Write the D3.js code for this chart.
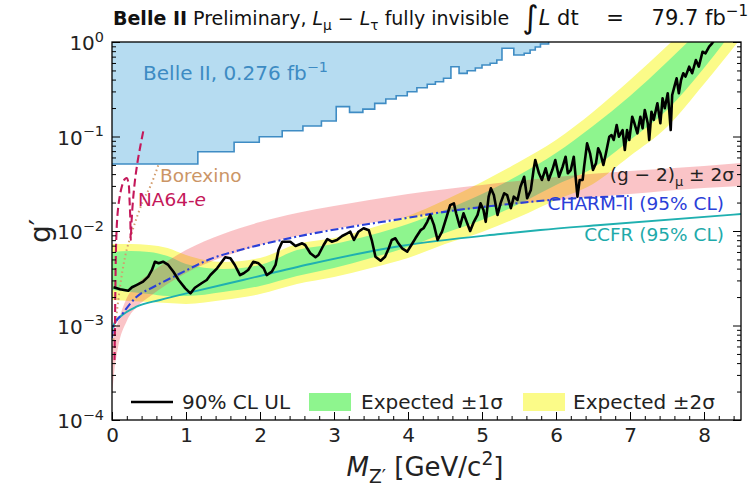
<!DOCTYPE html>
<html>
<head>
<meta charset="utf-8">
<script src="https://cdn.jsdelivr.net/npm/d3@7"></script>
<style>
  body { margin: 0; background: #fff; }
  svg { font-family: "DejaVu Sans", sans-serif; }
</style>
</head>
<body>
<div id="chart-holder"></div>
<script>
// axis ticks
var xTicks = [0, 1, 2, 3, 4, 5, 6, 7, 8];
var yTickExp = [0, -1, -2, -3, -4];

// Belle II 0.276 fb-1 exclusion (step edges)
var belleMass = [0, 1.16, 1.65, 1.99, 2.30, 2.58, 2.83, 3.03, 3.21, 3.39, 3.55, 3.70, 3.84, 3.99, 4.12, 4.26,
  4.37, 4.48, 4.58, 4.69, 4.80, 4.91, 5.00, 5.11, 5.20, 5.27, 5.43, 5.57, 5.65, 5.72, 5.79, 5.90];
var belleG = [0.0512, 0.069, 0.0868, 0.0995, 0.115, 0.129, 0.146, 0.207, 0.180, 0.195, 0.224, 0.249, 0.270, 0.298, 0.328, 0.357,
  0.380, 0.413, 0.548, 0.466, 0.497, 0.531, 0.571, 0.595, 0.645, 0.858, 0.728, 0.759, 0.823, 0.885, 0.952, 1.0];

// observed 90% CL upper limit
var obsMass = [0.02, 0.11, 0.22, 0.27, 0.33, 0.42, 0.49, 0.54, 0.58, 0.63, 0.69, 0.76, 0.83, 0.90, 0.99, 1.06, 1.12, 1.21,
  1.28, 1.33, 1.42, 1.53, 1.60, 1.66, 1.73, 1.78, 1.84, 1.91, 1.98, 2.05, 2.09, 2.16, 2.21, 2.25, 2.30, 2.41, 2.48, 2.57,
  2.61, 2.68, 2.75, 2.79, 2.86, 2.91, 2.97, 3.04, 3.11, 3.18, 3.22, 3.27, 3.33, 3.40, 3.47, 3.51, 3.56, 3.63, 3.69, 3.74,
  3.78, 3.83, 3.87, 3.92, 3.99, 4.06, 4.10, 4.17, 4.21, 4.26, 4.30, 4.35, 4.40, 4.46, 4.53, 4.57, 4.62, 4.65, 4.70, 4.75,
  4.80, 4.84, 4.89, 4.94, 4.98, 5.02, 5.05, 5.09, 5.12, 5.16, 5.21, 5.25, 5.30, 5.34, 5.39, 5.43, 5.48, 5.52, 5.57, 5.61,
  5.66, 5.70, 5.72, 5.77, 5.81, 5.86, 5.90, 5.95, 5.99, 6.04, 6.09, 6.13, 6.16, 6.20, 6.24, 6.29, 6.32, 6.36, 6.38, 6.42,
  6.46, 6.50, 6.54, 6.57, 6.60, 6.64, 6.67, 6.72, 6.75, 6.78, 6.82, 6.85, 6.90, 6.93, 6.96, 6.99, 7.03, 7.06, 7.10, 7.14,
  7.17, 7.20, 7.24, 7.26, 7.29, 7.32, 7.37, 7.41, 7.44, 7.47, 7.51, 7.53, 7.55, 7.57, 7.60, 7.63, 7.66, 7.69, 7.72, 7.75,
  7.80, 7.84, 7.89, 7.93, 7.98, 8.02, 8.07, 8.11, 8.14];
var obsG = [0.00254, 0.00242, 0.00233, 0.00254, 0.00268, 0.00291, 0.00329, 0.00387, 0.00473, 0.00455, 0.00473, 0.00437,
  0.00371, 0.00303, 0.00247, 0.00219, 0.00251, 0.0028, 0.00303, 0.00342, 0.00403, 0.00527, 0.00514, 0.00437, 0.00342,
  0.00357, 0.00387, 0.00473, 0.00455, 0.00403, 0.00342, 0.00371, 0.00437, 0.0063, 0.0077, 0.0077, 0.00694, 0.00741,
  0.00711, 0.00581, 0.00527, 0.00557, 0.00711, 0.00823, 0.0077, 0.00803, 0.00885, 0.00945, 0.00983, 0.00803, 0.00983,
  0.0107, 0.0102, 0.00803, 0.00535, 0.00485, 0.00535, 0.00656, 0.00803, 0.00837, 0.00741, 0.00656, 0.00604, 0.00741,
  0.00837, 0.0102, 0.0107, 0.0125, 0.0148, 0.0116, 0.00803, 0.00983, 0.0148, 0.0188, 0.0196, 0.0154, 0.0111, 0.0154,
  0.0121, 0.0100, 0.0125, 0.0148, 0.0196, 0.0167, 0.0125, 0.0231, 0.0283, 0.0240, 0.0148, 0.0196, 0.0251, 0.0240,
  0.0174, 0.0231, 0.0213, 0.0294, 0.0375, 0.0222, 0.0272, 0.0461, 0.0564, 0.0408, 0.0347, 0.0461, 0.0347, 0.0442,
  0.0564, 0.0375, 0.0479, 0.0611, 0.0408, 0.0442, 0.0611, 0.0231, 0.0347, 0.0347, 0.0479, 0.0847, 0.0664, 0.0442,
  0.052, 0.075, 0.0664, 0.0499, 0.0637, 0.0995, 0.1037, 0.0918, 0.132, 0.0995, 0.117, 0.072, 0.117, 0.0918, 0.162,
  0.138, 0.108, 0.162, 0.122, 0.191, 0.138, 0.0918, 0.183, 0.150, 0.225, 0.138, 0.254, 0.199, 0.287, 0.191, 0.117,
  0.275, 0.337, 0.413, 0.287, 0.396, 0.467, 0.430, 0.548, 0.467, 0.645, 0.548, 0.789, 0.759, 0.892, 0.969, 1.05];

// expected limit bands
var expMass = [0, 0.25, 0.5, 0.75, 1, 1.5, 2, 2.5, 3, 3.5, 4, 4.5, 5, 5.5, 6, 6.5, 7, 7.5, 8, 8.5];
var exp2Hi = [0.00729, 0.00729, 0.00711, 0.00661, 0.00557, 0.0047, 0.00518, 0.00729, 0.00843, 0.01076, 0.01441,
  0.02128, 0.033, 0.0537, 0.0918, 0.1816, 0.396, 0.907, 2.18, 5.5];
var exp1Hi = [0.006, 0.00614, 0.006, 0.00544, 0.00448, 0.00396, 0.00437, 0.00629, 0.00729, 0.00907, 0.01186,
  0.01668, 0.02463, 0.0391, 0.0669, 0.1291, 0.268, 0.614, 1.477, 3.73];
var exp1Lo = [0.00238, 0.00226, 0.00215, 0.00205, 0.00205, 0.00226, 0.00262, 0.00334, 0.00406, 0.00518, 0.00677,
  0.00952, 0.01307, 0.01931, 0.0307, 0.0464, 0.0918, 0.1907, 0.531, 1.71];
var exp2Lo = [0.00186, 0.00182, 0.00177, 0.00173, 0.00169, 0.00186, 0.00215, 0.00275, 0.00326, 0.00406, 0.00518,
  0.00729, 0.00976, 0.01406, 0.02128, 0.03144, 0.0622, 0.126, 0.359, 1.10];

// (g-2)mu +- 2 sigma band
var pinkMass = [0, 0.03, 0.08, 0.2, 0.35, 0.5, 0.75, 1, 1.5, 2, 2.5, 3, 4, 5, 6, 7, 8, 8.5];
var pinkHi = [6.22e-4, 7.93e-4, 1.089e-3, 1.954e-3, 2.817e-3, 3.508e-3, 4.813e-3, 6.29e-3, 9.30e-3, 1.245e-2,
  1.551e-2, 1.839e-2, 2.463e-2, 3.07e-2, 3.727e-2, 4.315e-2, 4.874e-2, 5.243e-2];
var pinkLo = [1.839e-4, 3.22e-4, 5.78e-4, 1.116e-3, 1.608e-3, 2.002e-3, 2.749e-3, 3.594e-3, 5.31e-3, 7.11e-3,
  8.85e-3, 1.050e-2, 1.406e-2, 1.751e-2, 2.128e-2, 2.463e-2, 2.851e-2, 2.994e-2];

// other experiments
var charmMass = [0, 0.02, 0.15, 0.33, 0.56, 0.88, 1.33, 1.78, 2.23, 2.68, 3.22, 3.90, 4.57, 5.25, 5.93, 6.60, 6.98];
var charmG = [7.37e-4, 9.64e-4, 1.356e-3, 2.002e-3, 2.555e-3, 3.422e-3, 5.054e-3, 6.449e-3, 7.84e-3, 9.30e-3,
  1.102e-2, 1.340e-2, 1.628e-2, 1.884e-2, 2.128e-2, 2.290e-2, 2.346e-2];
var ccfrMass = [0, 0.04, 0.11, 0.33, 0.65, 1.10, 1.77, 2.68, 3.90, 5.25, 5.79, 6.60, 8.5];
var ccfrG = [8.96e-4, 1.089e-3, 1.239e-3, 1.581e-3, 1.862e-3, 2.279e-3, 3.03e-3, 4.476e-3, 6.94e-3, 9.30e-3,
  1.025e-2, 1.157e-2, 1.513e-2];
var na64Mass = [0.034, 0.041, 0.047, 0.057, 0.074, 0.101, 0.135, 0.169, 0.199, 0.223, 0.237, 0.248, 0.253, 0.264,
  0.284, 0.311, 0.345, 0.386, 0.426];
var na64G = [4.32e-4, 1.143e-3, 3.03e-3, 8.03e-3, 1.477e-2, 2.234e-2, 2.994e-2, 3.508e-2, 3.638e-2, 3.221e-2,
  2.128e-2, 1.307e-2, 8.03e-3, 1.245e-2, 2.128e-2, 3.465e-2, 5.37e-2, 8.13e-2, 0.1172];
var borMass = [0.02, 0.064, 0.108, 0.176, 0.267, 0.356, 0.424, 0.514, 0.627];
var borG = [7.03e-4, 1.356e-3, 2.555e-3, 5.31e-3, 9.52e-3, 1.551e-2, 2.128e-2, 2.922e-2, 4.994e-2];

// chart area (plotTop: "top" is taken by window.top)
var width = 751, height = 488;
var plotLeft = 112, plotRight = 741, plotTop = 42, plotBottom = 420;

var svg = d3.select("#chart-holder")
  .append("svg")
  .attr("width", width)
  .attr("height", height);

var x = d3.scaleLinear().domain([0, 8.5]).range([plotLeft, plotRight]);
var y = d3.scaleLog().domain([1e-4, 1]).range([plotBottom, plotTop]);

svg.append("clipPath")
  .attr("id", "plot-clip")
  .append("rect")
  .attr("x", plotLeft)
  .attr("y", plotTop)
  .attr("width", plotRight - plotLeft)
  .attr("height", plotBottom - plotTop);

var plot = svg.append("g").attr("clip-path", "url(#plot-clip)");

// zip two arrays into points
function pts(ms, gs) {
  return ms.map(function(m, i) { return {m: m, g: gs[i]}; });
}

function band(ms, lo, hi) {
  return ms.map(function(m, i) { return {m: m, lo: lo[i], hi: hi[i]}; });
}

var bandArea = d3.area()
  .curve(d3.curveMonotoneX)
  .x(function(d) { return x(d.m); })
  .y0(function(d) { return y(d.lo); })
  .y1(function(d) { return y(d.hi); });

// belle II old result
var belle = pts(belleMass, belleG);
plot.append("path")
  .datum(belle)
  .attr("d", d3.area().curve(d3.curveStepAfter)
    .x(function(d) { return x(d.m); })
    .y0(y(1))
    .y1(function(d) { return y(d.g); }))
  .attr("fill", "#b6dcf1");
plot.append("path")
  .datum(belle)
  .attr("d", d3.line().curve(d3.curveStepAfter)
    .x(function(d) { return x(d.m); })
    .y(function(d) { return y(d.g); }))
  .attr("fill", "none")
  .attr("stroke", "#3f8cc4")
  .attr("stroke-width", 1.6);

// expected bands
var yellow = "#fbfb88", green = "#8ef58e";
plot.append("path")
  .datum(band(expMass, exp2Lo, exp2Hi))
  .attr("d", bandArea)
  .attr("fill", yellow);
plot.append("path")
  .datum(band(expMass, exp1Lo, exp1Hi))
  .attr("d", bandArea)
  .attr("fill", green);

// (g-2) band on top, translucent
plot.append("path")
  .datum(band(pinkMass, pinkLo, pinkHi))
  .attr("d", bandArea)
  .attr("fill", "#f03c46")
  .attr("fill-opacity", 0.3);

var line = d3.line()
  .x(function(d) { return x(d.m); })
  .y(function(d) { return y(d.g); });

plot.append("path")
  .datum(pts(ccfrMass, ccfrG))
  .attr("d", line.curve(d3.curveMonotoneX))
  .attr("fill", "none")
  .attr("stroke", "#1fb0b0")
  .attr("stroke-width", 1.9);

plot.append("path")
  .datum(pts(charmMass, charmG))
  .attr("d", line.curve(d3.curveMonotoneX))
  .attr("fill", "none")
  .attr("stroke", "#2a40d8")
  .attr("stroke-width", 2.1)
  .attr("stroke-dasharray", "8,3,2,3");

plot.append("path")
  .datum(pts(borMass, borG))
  .attr("d", line.curve(d3.curveMonotoneX))
  .attr("fill", "none")
  .attr("stroke", "#d29c6c")
  .attr("stroke-width", 2)
  .attr("stroke-dasharray", "1.5,3");

plot.append("path")
  .datum(pts(na64Mass, na64G))
  .attr("d", line.curve(d3.curveCatmullRom))
  .attr("fill", "none")
  .attr("stroke", "#c4185a")
  .attr("stroke-width", 2.1)
  .attr("stroke-dasharray", "8,4");

// observed limit
plot.append("path")
  .datum(pts(obsMass, obsG))
  .attr("d", line.curve(d3.curveLinear))
  .attr("fill", "none")
  .attr("stroke", "#000")
  .attr("stroke-width", 2.6)
  .attr("stroke-linejoin", "round");

// write text made of pieces: [text, kind] with kind b / i / sub / sup / big
function rich(sel, parts, fs) {
  var shift = 0;
  parts.forEach(function(p) {
    var t = sel.append("tspan").text(p[0]);
    var target = 0;
    if (p[1] === "sub") {
      target = 0.28 * fs;
      t.attr("font-size", 0.72 * fs);
    } else if (p[1] === "sup") {
      target = -0.42 * fs;
      t.attr("font-size", 0.72 * fs);
    } else if (p[1] === "big") {
      target = 0.12 * fs;
      t.attr("font-size", 1.5 * fs);
    }
    if (p[1] === "b") t.attr("font-weight", "bold");
    if (p[1] === "i") t.attr("font-style", "italic");
    if (target !== shift) t.attr("dy", target - shift);
    shift = target;
  });
}

// annotations
var ann = svg.append("g").attr("font-size", 18.5);
rich(ann.append("text").attr("x", x(0.42)).attr("y", 80).attr("fill", "#3d8bc3").attr("font-size", 20),
  [["Belle II, 0.276 fb", ""], ["\u22121", "sup"]], 20);
ann.append("text").attr("x", x(0.65)).attr("y", y(0.033)).attr("fill", "#cb9566").text("Borexino");
rich(ann.append("text").attr("x", x(0.35)).attr("y", y(0.0185)).attr("fill", "#c4185a"),
  [["NA64-", ""], ["e", "i"]], 18.5);
rich(ann.append("text").attr("x", 734).attr("y", y(0.034)).attr("fill", "#222").attr("text-anchor", "end"),
  [["(g \u2212 2)", ""], ["\u03bc", "sub"], [" \u00b1 2\u03c3", ""]], 18);
ann.append("text").attr("x", 724).attr("y", y(0.0165)).attr("fill", "#2a40d8").attr("text-anchor", "end")
  .text("CHARM-II (95% CL)");
ann.append("text").attr("x", 724).attr("y", y(0.0079)).attr("fill", "#1eaaaa").attr("text-anchor", "end")
  .text("CCFR (95% CL)");

// frame and ticks
var yMinor = [];
yTickExp.slice(0, 4).forEach(function(e) {
  for (var j = 2; j <= 9; j++) yMinor.push(j * Math.pow(10, e - 1));
});
var yMajor = yTickExp.map(function(e) { return Math.pow(10, e); });
var xMinor = d3.range(0, 8.5, 0.2);

function ticks(axis, tx, values, size) {
  var g = svg.append("g")
    .attr("transform", tx)
    .call(axis.tickValues(values).tickSize(size).tickFormat(""));
  g.select(".domain").remove();
  g.selectAll("line").attr("stroke", "#000").attr("stroke-width", 1);
  return g;
}
ticks(d3.axisLeft(y), "translate(" + plotLeft + ",0)", yMajor, -8);
ticks(d3.axisLeft(y), "translate(" + plotLeft + ",0)", yMinor, -4);
ticks(d3.axisRight(y), "translate(" + plotRight + ",0)", yMajor, -8);
ticks(d3.axisRight(y), "translate(" + plotRight + ",0)", yMinor, -4);
ticks(d3.axisBottom(x), "translate(0," + plotBottom + ")", xMinor, -4);

var xAxis = svg.append("g")
  .attr("transform", "translate(0," + plotBottom + ")")
  .call(d3.axisBottom(x).tickValues(xTicks).tickSize(-8).tickPadding(8));
xAxis.select(".domain").remove();
xAxis.selectAll("line").attr("stroke", "#000");
xAxis.selectAll("text").attr("font-size", 20).attr("font-family", "DejaVu Sans").attr("fill", "#222");

svg.selectAll("text.ylab")
  .data(yTickExp)
  .enter()
  .append("text")
  .attr("class", "ylab")
  .attr("x", plotLeft - 8)
  .attr("y", function(d) { return y(Math.pow(10, d)) + 8; })
  .attr("text-anchor", "end")
  .attr("font-size", 20)
  .attr("fill", "#222")
  .each(function(d) {
    rich(d3.select(this), [["10", ""], [d === 0 ? "0" : "\u2212" + (-d), "sup"]], 20);
  });

svg.append("rect")
  .attr("x", plotLeft)
  .attr("y", plotTop)
  .attr("width", plotRight - plotLeft)
  .attr("height", plotBottom - plotTop)
  .attr("fill", "none")
  .attr("stroke", "#000")
  .attr("stroke-width", 1.3);

// axis titles
rich(svg.append("text").attr("x", 425).attr("y", 476).attr("text-anchor", "middle").attr("font-size", 26).attr("fill", "#222"),
  [["M", "i"], ["Z\u2032", "sub"], [" [GeV/c", ""], ["2", "sup"], ["]", ""]], 26);
svg.append("text")
  .attr("transform", "translate(50,231) rotate(-90)")
  .attr("text-anchor", "middle")
  .attr("font-size", 28)
  .attr("fill", "#222")
  .text("g\u2032");

// title
rich(svg.append("text").attr("x", 113).attr("y", 25).attr("font-size", 19).attr("fill", "#111"),
  [["Belle II", "b"], [" Preliminary, ", ""], ["L", "i"], ["\u03bc", "sub"], [" \u2212 ", ""], ["L", "i"],
   ["\u03c4", "sub"], [" fully invisible", ""]], 19);
rich(svg.append("text").attr("x", 748).attr("y", 25).attr("font-size", 21).attr("fill", "#111").attr("text-anchor", "end")
  .attr("xml:space", "preserve"),
  [["\u222b", "big"], ["L", "i"], [" dt \u2003=\u2003 79.7 fb", ""], ["\u22121", "sup"]], 21);

// legend
var leg = svg.append("g").attr("font-size", 20).attr("fill", "#222");
leg.append("line").attr("x1", 131).attr("x2", 173).attr("y1", 402).attr("y2", 402)
  .attr("stroke", "#000").attr("stroke-width", 2.6);
leg.append("text").attr("x", 182).attr("y", 409).text("90% CL UL");
leg.append("rect").attr("x", 309).attr("y", 393).attr("width", 42).attr("height", 18).attr("fill", green);
leg.append("text").attr("x", 361).attr("y", 409).text("Expected \u00b11\u03c3");
leg.append("rect").attr("x", 523).attr("y", 393).attr("width", 42).attr("height", 18).attr("fill", yellow);
leg.append("text").attr("x", 573).attr("y", 409).text("Expected \u00b12\u03c3");
</script>
</body>
</html>
